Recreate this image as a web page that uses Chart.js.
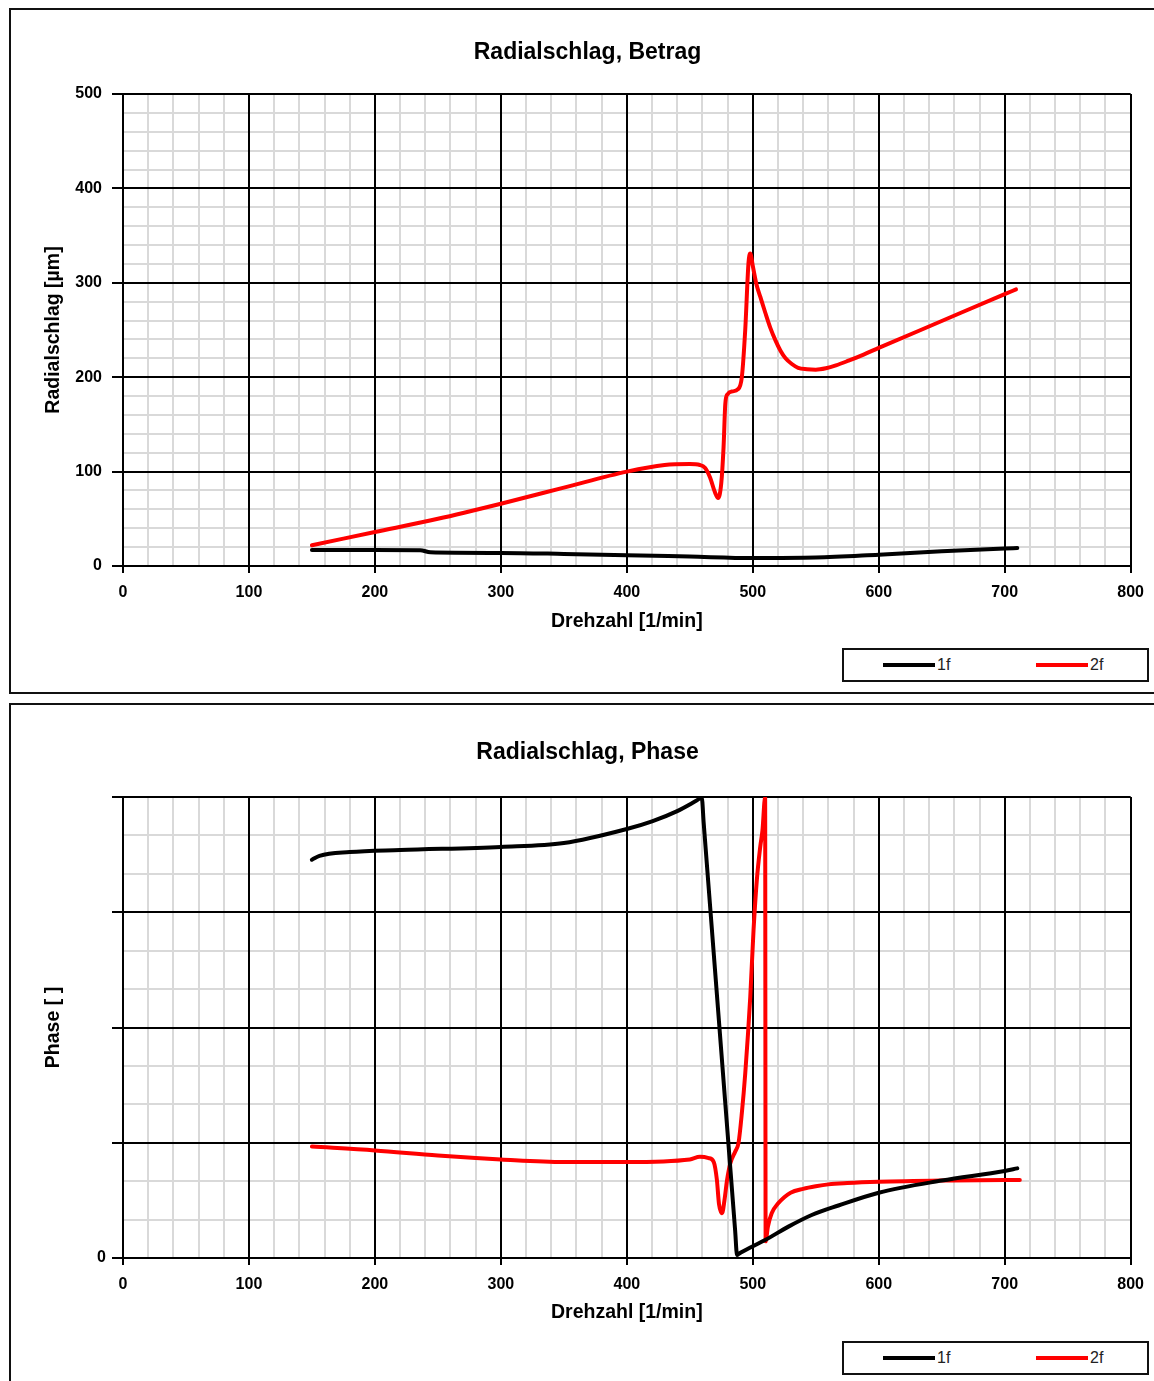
<!DOCTYPE html>
<html>
<head>
<meta charset="utf-8">
<script src="https://cdn.jsdelivr.net/npm/chart.js@4.4.0/dist/chart.umd.min.js"></script>
<style>
  body { margin: 0; background: #fff; width: 1154px; height: 1381px; overflow: hidden; position: relative;
         font-family: Arial, "Liberation Sans", sans-serif; }
  .panel { position: absolute; left: 9px; width: 1160px; border: 2px solid #111; box-sizing: border-box; }
  #panel1 { top: 8px; height: 686px; }
  #panel2 { top: 703px; height: 700px; }
  canvas { position: absolute; left: 0; }
  #c1 { top: 0; }
  #c2 { top: 700px; }
  .legende { position: absolute; left: 842px; width: 307px; height: 34px; border: 2px solid #111; box-sizing: border-box; background: #fff; }
  #leg1 { top: 648px; }
  #leg2 { top: 1341px; }
  .eintrag { position: absolute; top: 0; height: 30px; display: flex; align-items: center; font-size: 16px; color: #222; }
  .strich { width: 52px; height: 4px; margin-right: 2px; }
</style>
</head>
<body>
<div class="panel" id="panel1"></div>
<div class="panel" id="panel2"></div>
<canvas id="c1" width="1154" height="650"></canvas>
<canvas id="c2" width="1154" height="650"></canvas>
<div class="legende" id="leg1"></div>
<div class="legende" id="leg2"></div>
<script>
// Serien
const serien = ['1f', '2f'];
const farben = ['#000000', '#ff0000'];

// Radialschlag, Betrag [µm] über Drehzahl [1/min]
const drehzahlBetrag1f = [150, 200, 236, 244, 300, 350, 400, 450, 500, 550, 600, 650, 700, 710];
const betrag1f         = [17, 17, 16.8, 14.5, 13.8, 12.8, 11.5, 10, 8.5, 9, 12, 15.5, 18.5, 19];

const drehzahlBetrag2f = [150, 200, 250, 300, 350, 400, 430, 450, 458, 462, 466, 470, 472.5, 475, 476.8, 478.2,
                          480, 484, 488, 491.3, 494, 496.6, 498, 500, 503, 506, 510, 514, 518, 522, 526, 531,
                          536, 543, 550, 558, 566, 576, 588, 600, 650, 700, 709];
const betrag2f         = [22, 36, 50, 66, 83, 100, 107, 108, 107, 104, 94, 78, 72, 88, 126, 172,
                          182, 185, 187, 200, 250, 321, 331, 318, 298, 285, 268, 252, 239, 228, 220, 214,
                          210, 208.5, 208, 209.5, 212.5, 217.5, 224, 231, 259.5, 288, 293];

// Radialschlag, Phase [°] über Drehzahl [1/min]
const drehzahlPhase1f = [150, 156, 180, 220, 300, 350, 400, 420, 440, 455, 459.5, 461, 486, 487.5, 489, 499.3,
                         509.8, 528.3, 546.8, 568, 600, 650, 700, 710];
const phase1f         = [311, 314, 317, 318.6, 321, 324, 335, 341, 349, 357, 359.5, 340, 21.4, 2.3, 3.3, 8.8,
                         14, 24.5, 33.6, 41, 51, 60.5, 68, 70];

const drehzahlPhase2f = [150, 200, 250, 300, 350, 400, 450, 458, 465, 469, 471.5, 473.2, 475.6, 477.5, 479.6,
                         482.2, 486, 488.7, 491.3, 494, 498, 500.6, 503.2, 505.9, 507.7, 509.8, 510.2, 512, 515,
                         520, 525, 530, 540, 550, 560, 575, 600, 650, 700, 712];
const phase2f         = [87, 84, 80, 77, 75, 75, 77, 79, 78, 75, 61, 42, 35, 45, 61,
                         74, 83, 90, 113, 144, 204, 256, 295, 321, 334, 360, 13, 24.5, 35,
                         42.5, 47.5, 51, 54, 56, 57.5, 58.5, 59.5, 60.5, 61, 61];

const schrift = 'Arial, "Liberation Sans", sans-serif';

function punkte(xs, ys) {
  return xs.map((x, i) => ({ x: x, y: ys[i] }));
}

// Hilfslinien mit "darken" zeichnen, damit schwarze Hauptlinien über den grauen liegen
const dunklesRaster = {
  id: 'dunklesRaster',
  beforeDraw(chart) { chart.ctx.save(); chart.ctx.globalCompositeOperation = 'darken'; },
  beforeDatasetsDraw(chart) { chart.ctx.restore(); }
};

function istHaupt(ctx, schritt) {
  return ctx.tick && Math.round(ctx.tick.value) % schritt === 0;
}

function diagramm(id, cfg) {
  const datasets = [
    { label: serien[0], data: punkte(cfg.x1, cfg.y1), borderColor: farben[0] },
    { label: serien[1], data: punkte(cfg.x2, cfg.y2), borderColor: farben[1] }
  ].map(d => Object.assign(d, {
    borderWidth: 4, pointRadius: 0, fill: false,
    cubicInterpolationMode: 'monotone', borderCapStyle: 'round', borderJoinStyle: 'round'
  }));

  const chart = new Chart(document.getElementById(id), {
    type: 'line',
    data: { datasets: datasets },
    plugins: [dunklesRaster],
    options: {
      responsive: false,
      animation: false,
      events: [],
      layout: { padding: { left: 42, right: 21, top: 0, bottom: 0 } },
      plugins: {
        legend: { display: false },
        tooltip: { enabled: false },
        title: {
          display: true, text: cfg.titel, color: '#000',
          font: { family: schrift, size: 23, weight: 'bold', lineHeight: 1.2 },
          padding: cfg.titelAbstand
        }
      },
      scales: {
        x: {
          type: 'linear', min: 0, max: 800,
          afterFit: s => { s.height = cfg.xHoehe; },
          ticks: {
            stepSize: 20, autoSkip: false, maxRotation: 0, padding: cfg.xTickAbstand, color: '#000',
            font: { family: schrift, size: 16, weight: 'bold' },
            callback: v => (Math.round(v) % 100 === 0 ? String(v) : '')
          },
          grid: {
            lineWidth: 2, tickLength: 7,
            color: c => (istHaupt(c, 100) ? '#000' : '#d9d9d9'),
            tickColor: c => (istHaupt(c, 100) ? '#000' : 'rgba(0,0,0,0)')
          },
          border: { color: '#000', width: 2 },
          title: {
            display: true, text: 'Drehzahl [1/min]', color: '#000',
            font: { family: schrift, size: 19.5, weight: 'bold', lineHeight: 1 },
            padding: { top: 0, bottom: cfg.xTitelAbstand }
          }
        },
        y: {
          type: 'linear', min: 0, max: cfg.yMax,
          afterFit: s => { s.width = 81; },
          ticks: {
            stepSize: cfg.yStep, autoSkip: false, padding: cfg.yTickAbstand, color: '#000',
            font: { family: schrift, size: 16, weight: 'bold' },
            callback: cfg.yBeschriftung
          },
          grid: {
            lineWidth: 2, tickLength: 11,
            color: c => (istHaupt(c, cfg.yHaupt) ? '#000' : '#d9d9d9'),
            tickColor: c => (istHaupt(c, cfg.yHaupt) ? '#000' : 'rgba(0,0,0,0)')
          },
          border: { color: '#000', width: 2 },
          title: {
            display: true, text: cfg.yTitel, color: '#000',
            font: { family: schrift, size: 19.5, weight: 'bold', lineHeight: 1 },
            padding: { top: 2.25, bottom: 0 }
          }
        }
      }
    }
  });

  // Legende aus den Datensätzen
  const leg = document.getElementById(cfg.legende);
  chart.data.datasets.forEach((d, i) => {
    const e = document.createElement('div');
    e.className = 'eintrag';
    e.style.left = (39 + i * 153) + 'px';
    const s = document.createElement('span');
    s.className = 'strich';
    s.style.background = d.borderColor;
    const t = document.createElement('span');
    t.textContent = d.label;
    e.appendChild(s);
    e.appendChild(t);
    leg.appendChild(e);
  });
  return chart;
}

diagramm('c1', {
  titel: 'Radialschlag, Betrag',
  titelAbstand: { top: 38.7, bottom: 27.7 },
  x1: drehzahlBetrag1f, y1: betrag1f,
  x2: drehzahlBetrag2f, y2: betrag2f,
  xHoehe: 84, xTickAbstand: 10, xTitelAbstand: 18.25,
  yMax: 500, yStep: 20, yHaupt: 100, yTickAbstand: 10,
  yBeschriftung: v => (Math.round(v) % 100 === 0 ? String(v) : ''),
  yTitel: 'Radialschlag [µm]',
  legende: 'leg1'
});

diagramm('c2', {
  titel: 'Radialschlag, Phase',
  titelAbstand: { top: 39.2, bottom: 30.2 },
  x1: drehzahlPhase1f, y1: phase1f,
  x2: drehzahlPhase2f, y2: phase2f,
  xHoehe: 92, xTickAbstand: 10, xTitelAbstand: 27.25,
  yMax: 360, yStep: 30, yHaupt: 90, yTickAbstand: 6,
  yBeschriftung: v => (v === 0 ? '0' : ''),
  yTitel: 'Phase [ ]',
  legende: 'leg2'
});
</script>
</body>
</html>
